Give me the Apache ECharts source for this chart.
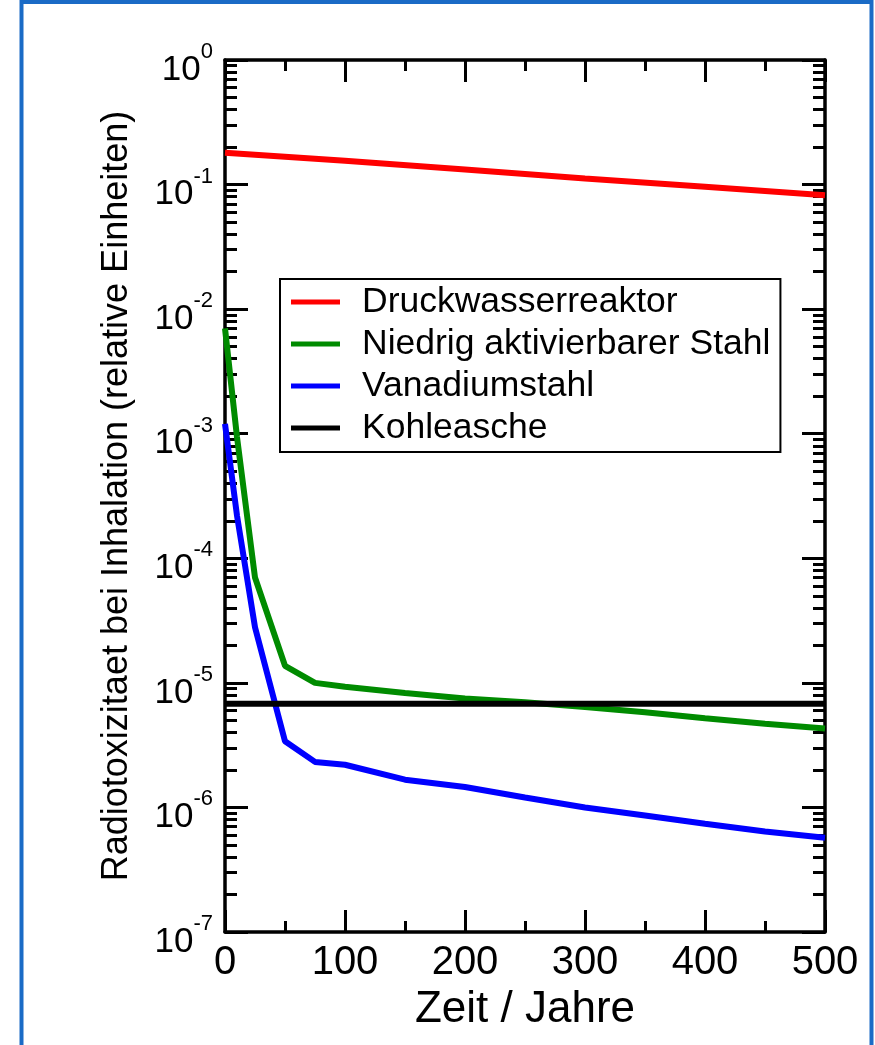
<!DOCTYPE html>
<html>
<head>
<meta charset="utf-8">
<script src="https://cdn.jsdelivr.net/npm/echarts@6/dist/echarts.min.js"></script>
<style>
html, body { margin: 0; padding: 0; background: #fff; }
#chart { width: 875px; height: 1045px; }
</style>
</head>
<body>
<div id="chart"></div>
<script>
// Radiotoxizitaet bei Inhalation, gelesen aus der Vorlage
const seriesNames = ['Druckwasserreaktor', 'Niedrig aktivierbarer Stahl', 'Vanadiumstahl', 'Kohleasche'];
const seriesColors = ['#ff0000', '#008b00', '#0000ff', '#000000'];

const reactorYears = [0, 100, 200, 300, 400, 500];
const reactorValues = [0.18, 0.155, 0.132, 0.112, 0.096, 0.082];

const steelYears = [0, 10, 25, 50, 75, 100, 150, 200, 250, 300, 350, 400, 450, 500];
const lowActSteel = [7e-3, 9.4e-4, 7e-5, 1.37e-5, 1.0e-5, 9.3e-6, 8.3e-6, 7.5e-6, 7.0e-6, 6.4e-6, 5.8e-6, 5.2e-6, 4.7e-6, 4.3e-6];
const vanadiumSteel = [1.2e-3, 2.2e-4, 2.8e-5, 3.4e-6, 2.32e-6, 2.2e-6, 1.67e-6, 1.46e-6, 1.2e-6, 1.0e-6, 8.6e-7, 7.4e-7, 6.4e-7, 5.7e-7];

const ashYears = [0, 500];
const ashValues = [6.8e-6, 6.8e-6];

const font = '"Liberation Sans", Arial, Helvetica, sans-serif';

const pairs = (xs, ys) => xs.map((x, i) => [x, ys[i]]);

const chart = echarts.init(document.getElementById('chart'));

const xAxisBase = {
  type: 'value',
  min: 0,
  max: 500,
  interval: 100,
  axisLine: { show: true, onZero: false, lineStyle: { color: '#000', width: 3.5 } },
  axisTick: { show: true, inside: true, length: 22, lineStyle: { color: '#000', width: 3 } },
  minorTick: { show: true, splitNumber: 2, length: 11, lineStyle: { color: '#000', width: 3 } },
  splitLine: { show: false }
};

const yAxisBase = {
  type: 'log',
  logBase: 10,
  min: 1e-7,
  max: 1,
  splitNumber: 7,
  axisLine: { show: true, onZero: false, lineStyle: { color: '#000', width: 3.5 } },
  axisTick: { show: true, inside: true, length: 23, lineStyle: { color: '#000', width: 3 } },
  minorTick: { show: true, splitNumber: 9, length: 12, lineStyle: { color: '#000', width: 3 } },
  splitLine: { show: false },
  minorSplitLine: { show: false }
};

chart.setOption({
  animation: false,
  backgroundColor: '#fff',
  textStyle: { fontFamily: font, color: '#000' },
  grid: { left: 225, right: 50, top: 60, bottom: 113, containLabel: false },
  legend: {
    orient: 'vertical',
    left: 280,
    top: 279,
    data: seriesNames,
    icon: 'rect',
    itemWidth: 49,
    itemHeight: 5,
    itemGap: 6,
    padding: [5, 10, 6, 11],
    borderColor: '#000',
    borderWidth: 2,
    backgroundColor: '#fff',
    textStyle: { fontFamily: font, fontSize: 35.5, color: '#000', padding: [0, 0, 0, 17] }
  },
  xAxis: [
    Object.assign({}, xAxisBase, {
      position: 'bottom',
      name: 'Zeit / Jahre',
      nameLocation: 'middle',
      nameGap: 52,
      nameTextStyle: { fontFamily: font, fontSize: 44, color: '#000' },
      axisLabel: { show: true, margin: 11, fontFamily: font, fontSize: 40, color: '#000' }
    }),
    Object.assign({}, xAxisBase, {
      position: 'top',
      axisLabel: { show: false }
    })
  ],
  yAxis: [
    Object.assign({}, yAxisBase, {
      position: 'left',
      name: 'Radiotoxizitaet bei Inhalation (relative Einheiten)',
      nameLocation: 'middle',
      nameGap: 90,
      nameTextStyle: { fontFamily: font, fontSize: 36, color: '#000' },
      axisLabel: {
        show: true,
        margin: 12,
        fontFamily: font,
        color: '#000',
        formatter: v => '{b|10}{s|' + Math.round(Math.log10(v)) + '}',
        rich: {
          b: { fontFamily: font, fontSize: 35, lineHeight: 36, padding: [20, 0, 0, 0], color: '#000' },
          s: { fontFamily: font, fontSize: 22, lineHeight: 22, padding: [0, 0, 16, 0], color: '#000' }
        }
      }
    }),
    Object.assign({}, yAxisBase, {
      position: 'right',
      axisLabel: { show: false }
    })
  ],
  series: [
    { name: seriesNames[0], data: pairs(reactorYears, reactorValues) },
    { name: seriesNames[1], data: pairs(steelYears, lowActSteel) },
    { name: seriesNames[2], data: pairs(steelYears, vanadiumSteel) },
    { name: seriesNames[3], data: pairs(ashYears, ashValues) }
  ].map((s, i) => Object.assign(s, {
    type: 'line',
    xAxisIndex: 0,
    yAxisIndex: 0,
    symbol: 'none',
    color: seriesColors[i],
    lineStyle: { color: seriesColors[i], width: 6 },
    z: 3
  })),
  graphic: [{
    type: 'rect',
    shape: { x: 21.5, y: 2, width: 850, height: 1100 },
    style: { fill: 'none', stroke: '#1a6bc6', lineWidth: 4 },
    silent: true
  }]
});
</script>
</body>
</html>
